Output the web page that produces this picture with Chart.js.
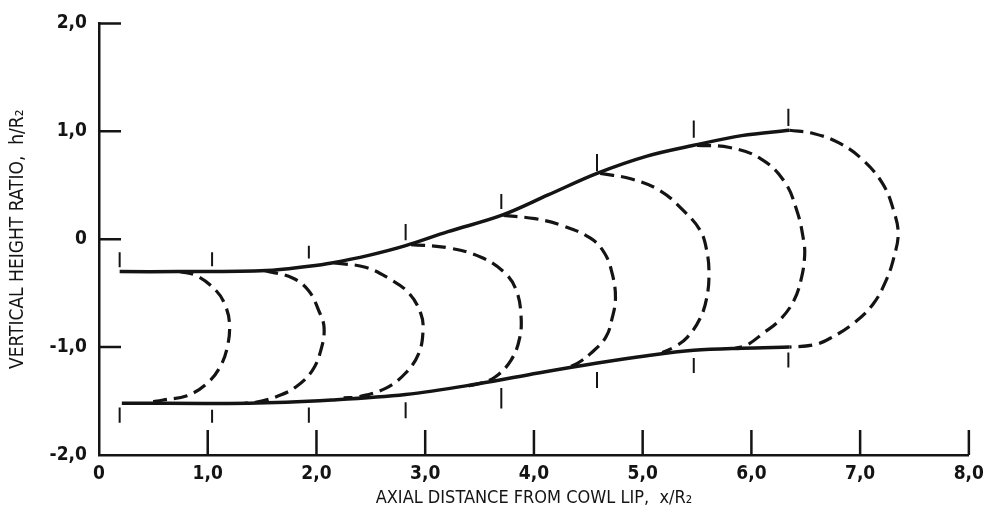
<!DOCTYPE html>
<html>
<head>
<meta charset="utf-8">
<script src="https://cdn.jsdelivr.net/npm/chart.js@4/dist/chart.umd.min.js"></script>
<style>
  html, body { margin: 0; padding: 0; background: #fff; }
  #wrap { width: 992px; height: 519px; position: relative; }
</style>
</head>
<body>
<div id="wrap"><canvas id="myChart"></canvas></div>
<script>
// axis ticks
const xTickValues = [0, 1, 2, 3, 4, 5, 6, 7, 8];
const xTickLabels = ['0', '1,0', '2,0', '3,0', '4,0', '5,0', '6,0', '7,0', '8,0'];
const yTickValues = [-2, -1, 0, 1, 2];
const yTickLabels = ['-2,0', '-1,0', '0', '1,0', '2,0'];

// solid outlines (x/R2, h/R2)
const upperLine = [[0.19, -0.30], [0.74, -0.30], [1.54, -0.29], [1.93, -0.25], [2.14, -0.22], [2.48, -0.15],
  [2.82, -0.06], [3.21, 0.07], [3.70, 0.22], [4.13, 0.41], [4.58, 0.61], [5.04, 0.77], [5.47, 0.87],
  [5.91, 0.96], [6.35, 1.01]];
const lowerLine = [[0.21, -1.52], [1.38, -1.52], [2.14, -1.49], [2.82, -1.44], [3.49, -1.34], [4.04, -1.24],
  [4.57, -1.15], [5.04, -1.08], [5.47, -1.03], [5.91, -1.01], [6.35, -1.00]];

// dashed cross-section contours, one per station
const contour1 = [[0.74, -0.30], [0.90, -0.34], [1.08, -0.48], [1.16, -0.61], [1.20, -0.78], [1.18, -1.00],
  [1.11, -1.19], [0.99, -1.34], [0.81, -1.45], [0.59, -1.49], [0.47, -1.51]];
const contour2 = [[1.52, -0.29], [1.78, -0.36], [1.93, -0.48], [2.02, -0.66], [2.07, -0.82], [2.04, -1.03],
  [1.96, -1.22], [1.81, -1.37], [1.63, -1.46], [1.45, -1.51], [1.34, -1.52]];
const contour3 = [[2.16, -0.22], [2.45, -0.26], [2.66, -0.36], [2.85, -0.50], [2.96, -0.69], [2.98, -0.85],
  [2.94, -1.06], [2.82, -1.24], [2.64, -1.38], [2.39, -1.46], [2.25, -1.47]];
const contour4 = [[2.87, -0.05], [3.21, -0.08], [3.52, -0.17], [3.74, -0.32], [3.84, -0.48], [3.88, -0.69],
  [3.87, -0.91], [3.79, -1.12], [3.64, -1.28], [3.49, -1.34], [3.40, -1.36]];
const contour5 = [[3.72, 0.22], [4.01, 0.19], [4.25, 0.13], [4.52, 0.01], [4.65, -0.13], [4.72, -0.32],
  [4.75, -0.54], [4.72, -0.73], [4.66, -0.91], [4.52, -1.06], [4.40, -1.15], [4.31, -1.19]];
const contour6 = [[4.61, 0.61], [4.89, 0.56], [5.16, 0.45], [5.38, 0.26], [5.53, 0.08], [5.59, -0.11],
  [5.61, -0.32], [5.59, -0.54], [5.53, -0.73], [5.41, -0.91], [5.29, -1.00], [5.18, -1.05]];
const contour7 = [[5.50, 0.87], [5.80, 0.85], [6.08, 0.75], [6.30, 0.54], [6.42, 0.26], [6.48, -0.01],
  [6.49, -0.15], [6.46, -0.36], [6.39, -0.57], [6.26, -0.75], [6.11, -0.87], [5.96, -0.98], [5.85, -1.01]];
const contour8 = [[6.35, 1.01], [6.57, 0.98], [6.81, 0.89], [7.03, 0.73], [7.21, 0.51], [7.31, 0.26],
  [7.35, 0.05], [7.31, -0.17], [7.24, -0.38], [7.12, -0.60], [6.94, -0.78], [6.72, -0.92], [6.57, -0.98],
  [6.35, -1.00]];
const contours = [contour1, contour2, contour3, contour4, contour5, contour6, contour7, contour8];

// station marks above the upper line and below the lower line
const stationX = [0.19, 1.04, 1.93, 2.82, 3.70, 4.58, 5.47, 6.34];
const upperMarkTop = [-0.12, -0.12, -0.06, 0.14, 0.42, 0.79, 1.10, 1.21];
const upperMarkBottom = [-0.26, -0.25, -0.18, -0.01, 0.28, 0.63, 0.94, 1.05];
const lowerMarkTop = [-1.56, -1.58, -1.56, -1.51, -1.38, -1.23, -1.10, -1.05];
const lowerMarkBottom = [-1.70, -1.70, -1.70, -1.66, -1.57, -1.38, -1.24, -1.19];

const INK = '#141414';
const FONT = "'DejaVu Sans Condensed', 'DejaVu Sans', sans-serif";

const toPts = arr => arr.map(p => ({ x: p[0], y: p[1] }));

const markPts = [];
stationX.forEach((sx, i) => {
  markPts.push({ x: sx, y: upperMarkTop[i] }, { x: sx, y: upperMarkBottom[i] }, { x: sx, y: null });
  markPts.push({ x: sx, y: lowerMarkTop[i] }, { x: sx, y: lowerMarkBottom[i] }, { x: sx, y: null });
});

const datasets = [
  { label: 'upper', data: toPts(upperLine), borderWidth: 3.5, tension: 0.35 },
  { label: 'lower', data: toPts(lowerLine), borderWidth: 3.5, tension: 0.35 },
  { label: 'stations', data: markPts, borderWidth: 2, tension: 0, spanGaps: false }
];
contours.forEach((c, i) => {
  datasets.push({ label: 'contour ' + (i + 1), data: toPts(c), borderWidth: 3.2, borderDash: [14, 7], tension: 0.4 });
});
datasets.forEach(d => {
  d.borderColor = INK;
  d.pointRadius = 0;
  d.fill = false;
  d.showLine = true;
});

// inward tick marks, as in the original figure
const inwardTicks = {
  id: 'inwardTicks',
  afterDatasetsDraw(chart) {
    const { ctx, chartArea, scales: { x, y } } = chart;
    ctx.save();
    ctx.strokeStyle = INK;
    ctx.lineWidth = 2.5;
    ctx.beginPath();
    xTickValues.forEach(v => {
      if (v === 0) return;
      const px = x.getPixelForValue(v);
      ctx.moveTo(px, chartArea.bottom);
      ctx.lineTo(px, chartArea.bottom - 25);
    });
    yTickValues.forEach(v => {
      if (v === -2) return;
      const py = y.getPixelForValue(v);
      ctx.moveTo(chartArea.left, py);
      ctx.lineTo(chartArea.left + 22, py);
    });
    ctx.stroke();
    ctx.restore();
  }
};

new Chart(document.getElementById('myChart').getContext('2d'), {
  type: 'scatter',
  data: { datasets },
  plugins: [inwardTicks],
  options: {
    responsive: true,
    maintainAspectRatio: false,
    animation: false,
    layout: { padding: { left: 4, right: 19, top: 22, bottom: 6 } },
    plugins: { legend: { display: false }, tooltip: { enabled: false } },
    scales: {
      x: {
        type: 'linear', min: 0, max: 8,
        afterFit: s => { s.height = 58; },
        afterBuildTicks: s => { s.ticks = xTickValues.map(v => ({ value: v })); },
        grid: { display: true, drawOnChartArea: false, drawTicks: false },
        border: { display: true, color: INK, width: 2.5 },
        ticks: {
          padding: 8, color: INK,
          font: { family: FONT, size: 19, weight: 'bold' },
          callback: v => xTickLabels[xTickValues.indexOf(v)]
        },
        title: {
          display: true, text: 'AXIAL DISTANCE FROM COWL LIP,  x/R\u2082', color: INK,
          font: { family: FONT, size: 18 }, padding: { top: 0, bottom: 4 }
        }
      },
      y: {
        type: 'linear', min: -2, max: 2,
        afterFit: s => { s.width = 95; },
        afterBuildTicks: s => { s.ticks = yTickValues.map(v => ({ value: v })); },
        grid: { display: true, drawOnChartArea: false, drawTicks: false },
        border: { display: true, color: INK, width: 2.5 },
        ticks: {
          padding: 12, color: INK,
          font: { family: FONT, size: 19, weight: 'bold' },
          callback: v => yTickLabels[yTickValues.indexOf(v)]
        },
        title: {
          display: true, text: 'VERTICAL HEIGHT RATIO,  h/R\u2082', color: INK,
          font: { family: FONT, size: 19 }, padding: { top: 3, bottom: 0 }
        }
      }
    }
  }
});
</script>
</body>
</html>
